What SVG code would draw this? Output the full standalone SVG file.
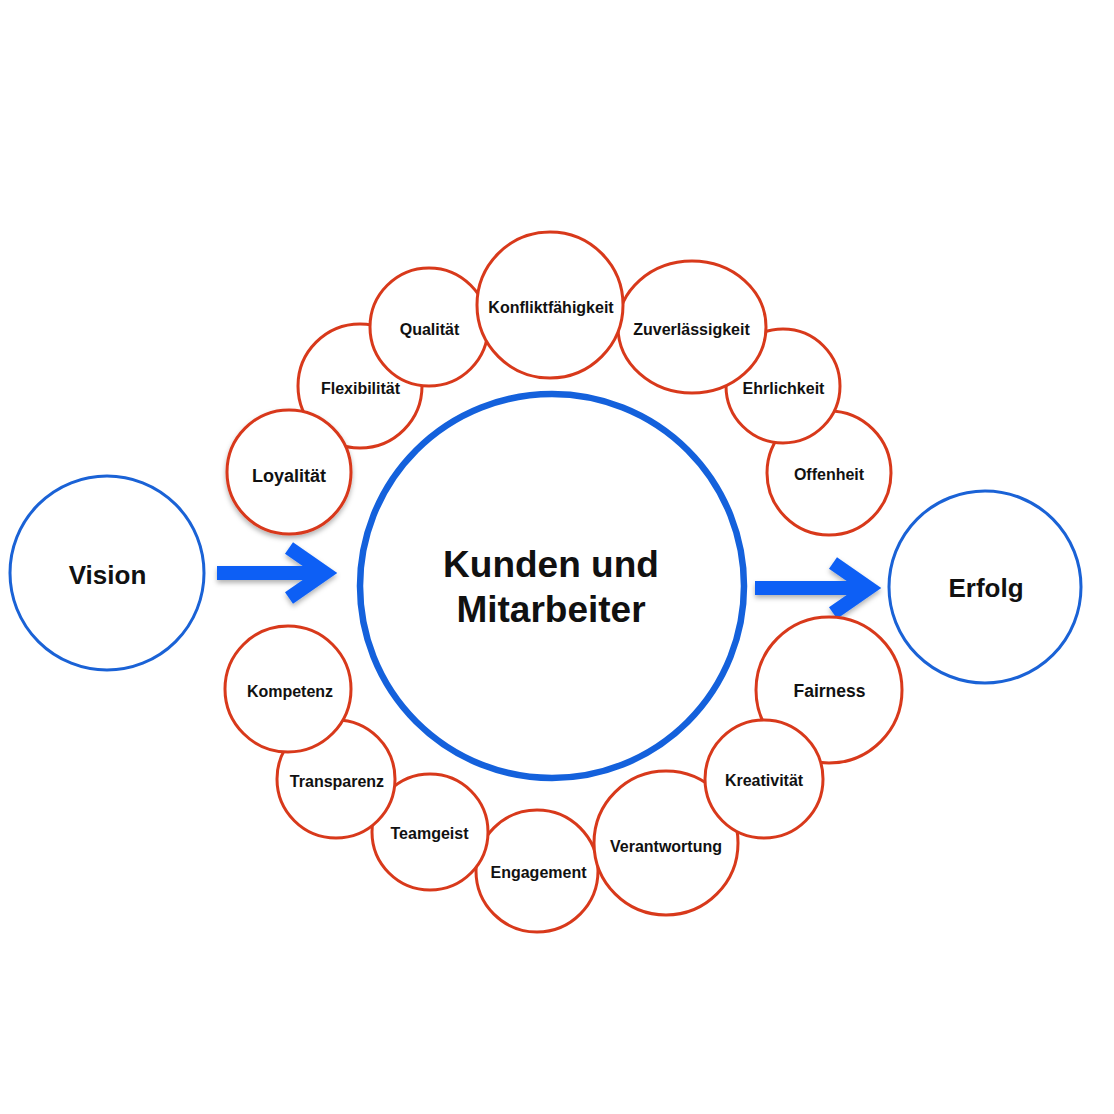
<svg xmlns="http://www.w3.org/2000/svg" width="1114" height="1114" viewBox="0 0 1114 1114">
<defs>
<style>
.r{fill:#fff;stroke:#d8391b;stroke-width:3}
.b{fill:#fff;stroke:#1a62d6;stroke-width:3}
.bb{fill:#fff;stroke:#1461dc;stroke-width:6.5}
.t{font-family:"Liberation Sans",Arial,sans-serif;font-weight:bold;font-size:16px;fill:#111;text-anchor:middle}
.tl{font-family:"Liberation Sans",Arial,sans-serif;font-weight:bold;font-size:26px;fill:#111;text-anchor:middle}
.tc{font-family:"Liberation Sans",Arial,sans-serif;font-weight:bold;font-size:37px;fill:#111;text-anchor:middle}
.a{fill:none;stroke:#0b5ff5;stroke-width:14;stroke-linejoin:miter;stroke-miterlimit:10}
</style>
<filter id="sh" x="-20%" y="-20%" width="140%" height="140%">
<feDropShadow dx="0" dy="3" stdDeviation="2.5" flood-color="#000" flood-opacity="0.3"/>
</filter>
</defs>
<rect width="1114" height="1114" fill="#fff"/>

<g id="connectors" filter="url(#sh)">
<path class="a" d="M217 573 H322 M289 548 L325 573 L289 598"/>
<path class="a" d="M755 588 H866 M833 563 L869 588 L833 613"/>
</g>

<g id="vision"><circle class="b" cx="107" cy="573" r="97"/><text class="tl" x="107.5" y="584">Vision</text></g>
<g id="erfolg"><circle class="b" cx="985" cy="587" r="96"/><text class="tl" x="986" y="597">Erfolg</text></g>
<g id="center"><circle class="bb" cx="552" cy="586" r="192"/>
<text class="tc" x="551" y="577">Kunden und</text><text class="tc" x="551" y="622">Mitarbeiter</text></g>

<g id="flexibilitaet"><circle class="r" cx="360" cy="386" r="62"/><text class="t" x="360.5" y="394">Flexibilität</text></g>
<g id="loyalitaet" ><circle class="r" cx="289" cy="472" r="62" filter="url(#sh)"/><text class="t" x="289" y="482" style="font-size:18px">Loyalität</text></g>
<g id="qualitaet"><circle class="r" cx="429" cy="327" r="59"/><text class="t" x="429.5" y="335">Qualität</text></g>
<g id="offenheit"><circle class="r" cx="829" cy="473" r="62"/><text class="t" x="829" y="480">Offenheit</text></g>
<g id="ehrlichkeit"><circle class="r" cx="783" cy="386" r="57"/><text class="t" x="783.5" y="394">Ehrlichkeit</text></g>
<g id="zuverlaessigkeit"><ellipse class="r" cx="692" cy="327" rx="74" ry="66"/><text class="t" x="691.5" y="335">Zuverlässigkeit</text></g>
<g id="konfliktfaehigkeit"><circle class="r" cx="550" cy="305" r="73"/><text class="t" x="551" y="313">Konfliktfähigkeit</text></g>

<g id="engagement"><circle class="r" cx="537" cy="871" r="61"/><text class="t" x="538.5" y="878">Engagement</text></g>
<g id="teamgeist"><circle class="r" cx="430" cy="832" r="58"/><text class="t" x="429.5" y="839">Teamgeist</text></g>
<g id="transparenz"><circle class="r" cx="336" cy="779" r="59"/><text class="t" x="337" y="787">Transparenz</text></g>
<g id="kompetenz"><circle class="r" cx="288" cy="689" r="63"/><text class="t" x="290" y="697">Kompetenz</text></g>

<g id="fairness"><circle class="r" cx="829" cy="690" r="73"/><text class="t" x="829.5" y="697" style="font-size:17.5px">Fairness</text></g>
<g id="verantwortung"><circle class="r" cx="666" cy="843" r="72"/><text class="t" x="666" y="852">Verantwortung</text></g>
<g id="kreativitaet"><circle class="r" cx="764" cy="779" r="59"/><text class="t" x="764" y="786">Kreativität</text></g>
</svg>
